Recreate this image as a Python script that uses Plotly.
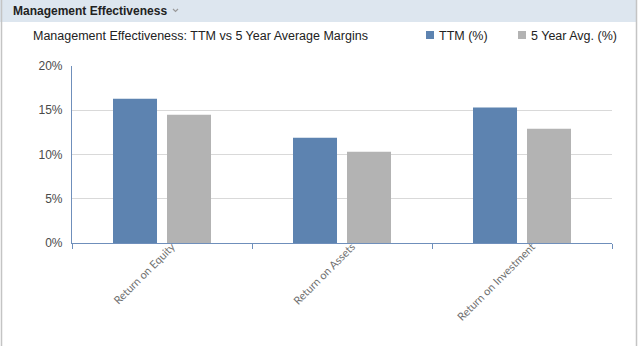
import plotly.graph_objects as go

categories = ["Return on Equity", "Return on Assets", "Return on Investment"]
ttm = [16.3, 11.9, 15.3]
avg5 = [14.5, 10.3, 12.9]
series_names = ["TTM (%)", "5 Year Avg. (%)"]
ytick_vals = [0, 5, 10, 15, 20]
ytick_text = ["0%", "5%", "10%", "15%", "20%"]

BLUE = "#5d83b0"
GRAY = "#b3b3b3"
AXIS = "#6f8fbb"

fig = go.Figure()
fig.add_trace(go.Bar(x=categories, y=ttm, name=series_names[0], marker_color=BLUE, marker_line_width=0))
fig.add_trace(go.Bar(x=categories, y=avg5, name=series_names[1], marker_color=GRAY, marker_line_width=0))

fig.update_layout(
    width=640, height=346,
    margin=dict(l=72, r=28, t=66, b=103),
    paper_bgcolor="white", plot_bgcolor="white",
    barmode="group", bargap=0.4, bargroupgap=0.185,
    showlegend=False,
    font=dict(family="Liberation Sans, Arial", color="#333"),
)
fig.update_xaxes(
    showline=True, linecolor=AXIS, linewidth=1.2,
    ticks="outside", tickson="boundaries", ticklen=5, tickcolor=AXIS, tickwidth=1.2,
    tickangle=-45, tickfont=dict(family="Lato", size=11, color="#707070"),
    ticklabelstandoff=-8, ticklabelshift=10,
    showgrid=False,
)
fig.update_yaxes(
    range=[0, 20], tickvals=ytick_vals, ticktext=ytick_text,
    showline=True, linecolor=AXIS, linewidth=1.2,
    showgrid=True, gridcolor="#d9d9d9", gridwidth=1,
    ticks="", ticklabelstandoff=6,
    tickfont=dict(family="Liberation Sans, Arial", size=12, color="#4a4a4a"),
    zeroline=False,
)


def px_x(x):
    return (x - 72) / 540


def px_y(y):
    return 1 + (66 - y) / 177


shapes = [
    dict(type="rect", x0=px_x(0), x1=px_x(636), y0=px_y(22), y1=px_y(0),
         fillcolor="#dde6ef", line_width=0, layer="below"),
    dict(type="line", x0=px_x(1.5), x1=px_x(1.5), y0=px_y(346), y1=px_y(0),
         line=dict(color="#c4c4c4", width=1.5)),
    dict(type="line", x0=px_x(636.5), x1=px_x(636.5), y0=px_y(346), y1=px_y(0),
         line=dict(color="#c4c4c4", width=1.5)),
    # chevron next to header
    dict(type="path",
         path=f"M {px_x(173)} {px_y(9)} L {px_x(175.5)} {px_y(11.5)} L {px_x(178)} {px_y(9)}",
         line=dict(color="#9a9a9a", width=1.2)),
    # legend swatches
    dict(type="rect", x0=px_x(426), x1=px_x(434), y0=px_y(39), y1=px_y(31),
         fillcolor=BLUE, line_width=0),
    dict(type="rect", x0=px_x(518), x1=px_x(526), y0=px_y(39), y1=px_y(31),
         fillcolor=GRAY, line_width=0),
]
for s in shapes:
    s.update(xref="paper", yref="paper")
fig.update_layout(shapes=shapes)

annotations = [
    dict(text="<b>Management Effectiveness</b>", x=px_x(11), y=px_y(11), xanchor="left", yanchor="middle",
         font=dict(family="Liberation Sans, Arial", size=12, color="#222")),
    dict(text="Management Effectiveness: TTM vs 5 Year Average Margins", x=px_x(31), y=px_y(36),
         xanchor="left", yanchor="middle",
         font=dict(family="Liberation Sans, Arial", size=12.5, color="#222")),
    dict(text=series_names[0], x=px_x(437), y=px_y(36), xanchor="left", yanchor="middle",
         font=dict(family="Liberation Sans, Arial", size=12.5, color="#222")),
    dict(text=series_names[1], x=px_x(529), y=px_y(36), xanchor="left", yanchor="middle",
         font=dict(family="Liberation Sans, Arial", size=12.5, color="#222")),
]
for a in annotations:
    a.update(xref="paper", yref="paper", showarrow=False)
fig.update_layout(annotations=annotations)

fig.write_html("out.html")
